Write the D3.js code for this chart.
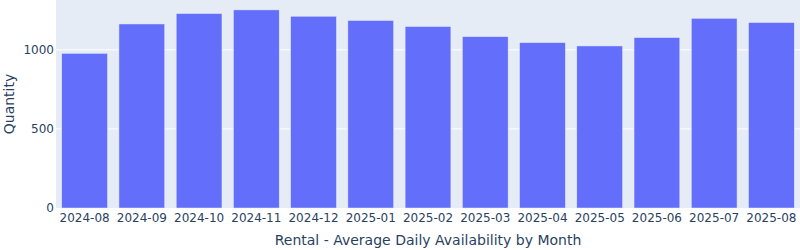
<!DOCTYPE html>
<html>
<head>
<script src="https://cdn.jsdelivr.net/npm/d3@7"></script>
<style>
  body { margin: 0; font-family: "DejaVu Sans", Verdana, sans-serif; background: #fff; }
</style>
</head>
<body>
<svg id="chart" width="800" height="250"></svg>
<script>
var months = ["2024-08", "2024-09", "2024-10", "2024-11", "2024-12", "2025-01", "2025-02",
              "2025-03", "2025-04", "2025-05", "2025-06", "2025-07", "2025-08"];
var quantity = [978, 1164, 1230, 1253, 1213, 1186, 1148, 1084, 1046, 1025, 1078, 1200, 1173];
var yTicks = [0, 500, 1000];

var m = { left: 56, right: 0, top: 0, bottom: 42 };
var W = 800, H = 250;
var font = "DejaVu Sans, Verdana, sans-serif";
var svg = d3.select("#chart");

var x = d3.scaleBand().domain(months).range([m.left, W - m.right]).paddingInner(0.2).paddingOuter(0.1);
var y = d3.scaleLinear().domain([0, d3.max(quantity) * 1.05]).range([H - m.bottom, m.top]);

svg.append("rect")
  .attr("x", m.left).attr("y", m.top)
  .attr("width", W - m.left - m.right).attr("height", H - m.top - m.bottom)
  .attr("fill", "#e5ecf6");

// grid
svg.append("g").selectAll("line").data(yTicks.slice(1)).enter().append("line")
  .attr("x1", m.left).attr("x2", W - m.right)
  .attr("y1", d => y(d)).attr("y2", d => y(d))
  .attr("stroke", "#fff").attr("stroke-width", 1);

// bars
svg.append("g").selectAll("rect").data(quantity).enter().append("rect")
  .attr("x", (d, i) => x(months[i]))
  .attr("y", d => y(d))
  .attr("width", x.bandwidth())
  .attr("height", d => y(0) - y(d))
  .attr("fill", "#636efa")
  .attr("stroke", "#e5ecf6").attr("stroke-width", 0.5);

// y axis
var yAxis = svg.append("g")
  .attr("transform", "translate(" + m.left + ",0)")
  .call(d3.axisLeft(y).tickValues(yTicks).tickFormat(d3.format("d")).tickSize(0).tickPadding(2));
yAxis.select(".domain").remove();
yAxis.selectAll("text").attr("font-family", font).attr("font-size", 12).attr("fill", "#2a3f5f");

// x axis
var xAxis = svg.append("g")
  .attr("transform", "translate(0," + (H - m.bottom) + ")")
  .call(d3.axisBottom(x).tickSize(0).tickPadding(5.5));
xAxis.select(".domain").remove();
xAxis.selectAll("text").attr("font-family", font).attr("font-size", 12).attr("fill", "#2a3f5f");

svg.append("text")
  .attr("x", (m.left + W - m.right) / 2).attr("y", 245)
  .attr("text-anchor", "middle")
  .attr("font-family", font).attr("font-size", 14).attr("fill", "#2a3f5f")
  .text("Rental - Average Daily Availability by Month");

svg.append("text")
  .attr("transform", "translate(14," + ((H - m.bottom + m.top) / 2) + ") rotate(-90)")
  .attr("text-anchor", "middle")
  .attr("font-family", font).attr("font-size", 14).attr("fill", "#2a3f5f")
  .text("Quantity");
</script>
</body>
</html>
